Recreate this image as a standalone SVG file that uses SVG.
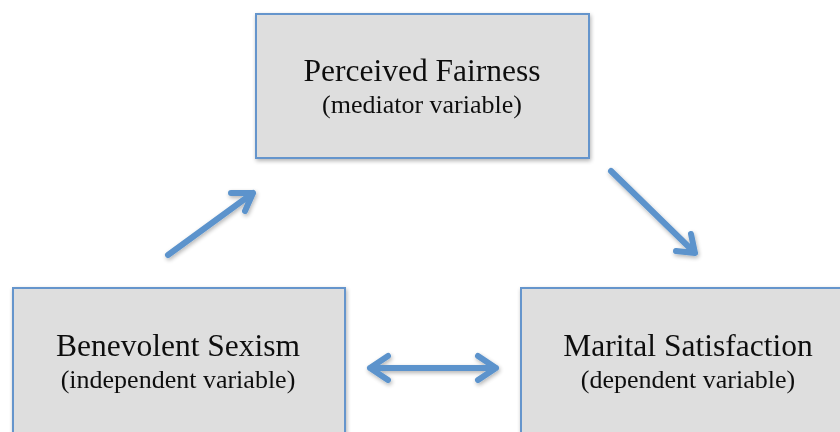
<svg xmlns="http://www.w3.org/2000/svg" width="840" height="432" viewBox="0 0 840 432">
<defs>
<style>
.box{fill:#dedede;stroke:#6595cc;stroke-width:2}
.t1{font-family:"Liberation Serif","Times New Roman",serif;font-size:31.5px;fill:#111;text-anchor:middle}
.t2{font-family:"Liberation Serif","Times New Roman",serif;font-size:26px;fill:#111;text-anchor:middle}
.arr{stroke:#5b93cc;stroke-width:6;fill:none;stroke-linecap:round;stroke-linejoin:round}
</style>
<filter id="sh" x="-20%" y="-20%" width="140%" height="140%">
<feGaussianBlur in="SourceAlpha" stdDeviation="2"/>
<feOffset dx="1" dy="2"/>
<feComponentTransfer><feFuncA type="linear" slope="0.3"/></feComponentTransfer>
<feMerge><feMergeNode/><feMergeNode in="SourceGraphic"/></feMerge>
</filter>
</defs>
<rect width="840" height="432" fill="#fff"/>
<g id="node-fairness" filter="url(#sh)">
<rect class="box" x="256" y="14" width="333" height="144"/>
<text class="t1" x="422" y="81">Perceived Fairness</text>
<text class="t2" x="422" y="113">(mediator variable)</text>
</g>
<g id="node-sexism" filter="url(#sh)">
<rect class="box" x="13" y="288" width="332" height="160"/>
<text class="t1" x="178" y="356">Benevolent Sexism</text>
<text class="t2" x="178" y="388">(independent variable)</text>
</g>
<g id="node-satisfaction" filter="url(#sh)">
<rect class="box" x="521" y="288" width="340" height="160"/>
<text class="t1" x="688" y="356">Marital Satisfaction</text>
<text class="t2" x="688" y="388">(dependent variable)</text>
</g>
<g id="connectors" filter="url(#sh)">
<path class="arr" d="M168,255 L253,193 M231,193 L253,193 L245,211"/>
<path class="arr" d="M611,171 L695,253 M691,234 L695,253 L676,251"/>
<path class="arr" d="M370,368 L496,368 M388,356 L370,368 L388,380 M478,356 L496,368 L478,380"/>
</g>
</svg>
